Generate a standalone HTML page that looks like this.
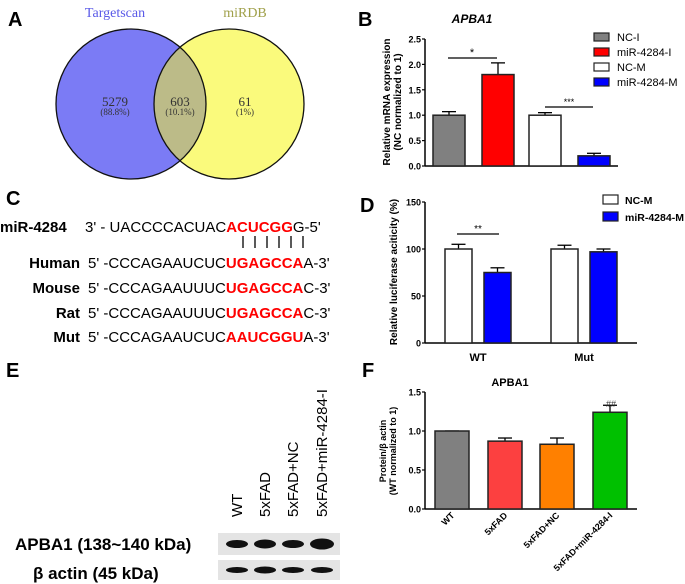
<!DOCTYPE html>
<html><head><meta charset="utf-8"><style>
html,body{margin:0;padding:0;background:#fff;}
svg{display:block;font-family:"Liberation Sans",Arial,sans-serif;}
</style></head><body>
<svg id="fig" width="685" height="584" viewBox="0 0 685 584" xmlns="http://www.w3.org/2000/svg">
<g font-weight="bold" font-size="20" fill="#000">
<text x="8" y="26">A</text>
<text x="358" y="26">B</text>
<text x="6" y="205">C</text>
<text x="360" y="212">D</text>
<text x="6" y="377">E</text>
<text x="362" y="377">F</text>
</g>
<g font-family="'Liberation Serif',serif">
<defs><clipPath id="cl"><circle cx="131" cy="104" r="75"/></clipPath></defs>
<circle cx="131" cy="104" r="75" fill="#7b7bf5"/>
<circle cx="229" cy="104" r="75" fill="#fafa7c"/>
<circle cx="229" cy="104" r="75" fill="#bcbb88" clip-path="url(#cl)"/>
<circle cx="131" cy="104" r="75" fill="none" stroke="#111" stroke-width="1.3"/>
<circle cx="229" cy="104" r="75" fill="none" stroke="#111" stroke-width="1.3"/>
<text x="115" y="17" font-size="14" fill="#5a5ae8" text-anchor="middle">Targetscan</text>
<text x="245" y="17" font-size="14" fill="#a0a04a" text-anchor="middle">miRDB</text>
<g fill="#333" text-anchor="middle">
<text x="115" y="106" font-size="13">5279</text><text x="115" y="115" font-size="9">(88.8%)</text>
<text x="180" y="106" font-size="13">603</text><text x="180" y="115" font-size="9">(10.1%)</text>
<text x="245" y="106" font-size="13">61</text><text x="245" y="115" font-size="9">(1%)</text>
</g>
</g>
<g font-size="15">
<text x="0" y="232" font-weight="bold">miR-4284</text>
<text x="85" y="232">3' - UACCCCACUAC<tspan fill="#f00" font-weight="bold">ACUCGG</tspan>G-5'</text>
<g stroke="#000" stroke-width="1.3">
<line x1="243" y1="236" x2="243" y2="248"/><line x1="255" y1="236" x2="255" y2="248"/><line x1="267" y1="236" x2="267" y2="248"/><line x1="279" y1="236" x2="279" y2="248"/><line x1="291" y1="236" x2="291" y2="248"/><line x1="303" y1="236" x2="303" y2="248"/>
</g>
<g font-weight="bold" text-anchor="end">
<text x="80" y="268">Human</text><text x="80" y="293">Mouse</text><text x="80" y="318">Rat</text><text x="80" y="342">Mut</text>
</g>
<text x="88" y="268">5' -CCCAGAAUCUC<tspan fill="#f00" font-weight="bold">UGAGCCA</tspan>A-3'</text>
<text x="88" y="293">5' -CCCAGAAUUUC<tspan fill="#f00" font-weight="bold">UGAGCCA</tspan>C-3'</text>
<text x="88" y="318">5' -CCCAGAAUUUC<tspan fill="#f00" font-weight="bold">UGAGCCA</tspan>C-3'</text>
<text x="88" y="342">5' -CCCAGAAUCUC<tspan fill="#f00" font-weight="bold">AAUCGGU</tspan>A-3'</text>
</g>
<g>
<g font-size="15" text-anchor="start">
<text transform="translate(242,517) rotate(-90)">WT</text>
<text transform="translate(270,517) rotate(-90)">5xFAD</text>
<text transform="translate(298,517) rotate(-90)">5xFAD+NC</text>
<text transform="translate(327,517) rotate(-90)">5xFAD+miR-4284-I</text>
</g>
<text x="15" y="550" font-size="17" font-weight="bold">APBA1 (138~140 kDa)</text>
<text x="33" y="579" font-size="17" font-weight="bold">β actin (45 kDa)</text>
<rect x="218" y="533" width="122" height="22" fill="#e4e4e4"/>
<rect x="218" y="560" width="122" height="20" fill="#e4e4e4"/>
<g fill="#111">
<ellipse cx="237" cy="544" rx="11" ry="4"/><ellipse cx="265" cy="544" rx="11" ry="4.5"/><ellipse cx="293" cy="544" rx="11" ry="4"/><ellipse cx="322" cy="544" rx="12" ry="5.5"/>
<ellipse cx="237" cy="570" rx="11" ry="3"/><ellipse cx="265" cy="570" rx="11" ry="3.5"/><ellipse cx="293" cy="570" rx="11" ry="3"/><ellipse cx="322" cy="570" rx="11" ry="3"/>
</g>
</g>
<g id="charts"></g>
</svg>
<script>
// Panel B data
const bCats = ["NC-I","miR-4284-I","NC-M","miR-4284-M"];
const bVals = [1.0, 1.8, 1.0, 0.2];
const bErr = [0.07, 0.23, 0.05, 0.05];
const bTicks = [0, 0.5, 1.0, 1.5, 2.0, 2.5];
// Panel D data
const dGroups = ["WT","Mut"];
const dSeries = ["NC-M","miR-4284-M"];
const dNC = [100, 100];
const dMir = [75, 97];
const dErrNC = [5, 4];
const dErrMir = [5, 3];
const dTicks = [0, 50, 100, 150];
// Panel F data
const fCats = ["WT","5xFAD","5xFAD+NC","5xFAD+miR-4284-I"];
const fVals = [1.0, 0.87, 0.83, 1.24];
const fErr = [0, 0.04, 0.08, 0.09];
const fTicks = [0, 0.5, 1.0, 1.5];

const NS="http://www.w3.org/2000/svg";
const root=document.getElementById('charts');
function mk(tag,attrs,parent){const e=document.createElementNS(NS,tag);for(const k in attrs)e.setAttribute(k,attrs[k]);(parent||root).appendChild(e);return e;}
function txt(s,attrs,parent){const e=mk('text',attrs,parent);e.textContent=s;return e;}
function axis(g,x0,x1,yScale,ticks,fmt){
  mk('line',{x1:x0,y1:yScale(ticks[0]),x2:x0,y2:yScale(ticks[ticks.length-1]),stroke:'#000','stroke-width':1.5},g);
  mk('line',{x1:x0,y1:yScale(0),x2:x1,y2:yScale(0),stroke:'#000','stroke-width':1.5},g);
  ticks.forEach(t=>{const y=yScale(t);
    mk('line',{x1:x0-3,y1:y,x2:x0,y2:y,stroke:'#000','stroke-width':1.2},g);
    const lab=txt(fmt(t),{x:x0-4,y:y+3.5,'font-size':9,'font-weight':'bold','text-anchor':'end'},g);
    
    
  });
}
function bar(g,x,w,y0,y1,fill,errTop,name){
  mk('line',{x1:x+w/2,y1:y1,x2:x+w/2,y2:errTop,stroke:'#000','stroke-width':1.3},g);
  mk('line',{x1:x+w/2-7,y1:errTop,x2:x+w/2+7,y2:errTop,stroke:'#000','stroke-width':1.3},g);
  const r=mk('rect',{x:x,y:y1,width:w,height:y0-y1,fill:fill,stroke:'#222','stroke-width':1.5},g);
  
  
}

(function(){
  const g=mk('g',{});
  
  
  const y=v=>166-v*(127/2.5);
  axis(g,425,618,y,bTicks,t=>t.toFixed(1));
  const cols=['#808080','#ff0000','#ffffff','#0000ff'];
  const xs=[433,482,529,578];
  bCats.forEach((c,i)=>bar(g,xs[i],32,y(0),y(bVals[i]),cols[i],y(bVals[i]+bErr[i]),'bar-b-'+c.toLowerCase()));
  txt('APBA1',{x:472,y:23,'font-size':12,'font-weight':'bold','font-style':'italic','text-anchor':'middle'},g);
  const yl=txt('',{transform:'translate(390,102) rotate(-90)','font-size':10,'font-weight':'bold','text-anchor':'middle'},g);
  
  
  yl.innerHTML='<tspan x="0" dy="0">Relative mRNA expression</tspan><tspan x="0" dy="11">(NC normalized to 1)</tspan>';
  mk('line',{x1:448,y1:58,x2:497,y2:58,stroke:'#000','stroke-width':1.2},g);
  txt('*',{x:472,y:56,'font-size':11,'text-anchor':'middle'},g);
  mk('line',{x1:545,y1:107,x2:593,y2:107,stroke:'#000','stroke-width':1.2},g);
  txt('***',{x:569,y:105,'font-size':9,'text-anchor':'middle'},g);
  bCats.forEach((c,i)=>{const ly=33+i*15;
    const lg=mk('g',{},g);
    
    
    mk('rect',{x:594,y:ly,width:15,height:8,fill:cols[i],stroke:'#222','stroke-width':1.2},lg);
    txt(c,{x:617,y:ly+8,'font-size':11},lg);
  });
})();

(function(){
  const g=mk('g',{});
  
  
  const y=v=>343-v*(141/150);
  axis(g,425,637,y,dTicks,t=>String(t));
  const gx=[445,551];
  dGroups.forEach((grp,i)=>{
    bar(g,gx[i],27,y(0),y(dNC[i]),'#ffffff',y(dNC[i]+dErrNC[i]),'bar-d-'+grp.toLowerCase()+'-nc-m');
    bar(g,gx[i]+39,27,y(0),y(dMir[i]),'#0000ff',y(dMir[i]+dErrMir[i]),'bar-d-'+grp.toLowerCase()+'-mir-4284-m');
    const l=txt(grp,{x:gx[i]+33,y:361,'font-size':11,'font-weight':'bold','text-anchor':'middle'},g);
    
    
  });
  const yl=txt('Relative luciferase aciticity (%)',{transform:'translate(397,272) rotate(-90)','font-size':10,'font-weight':'bold','text-anchor':'middle'},g);
  
  
  mk('line',{x1:457,y1:234,x2:499,y2:234,stroke:'#000','stroke-width':1.2},g);
  txt('**',{x:478,y:232,'font-size':10,'text-anchor':'middle'},g);
  const cols=['#ffffff','#0000ff'];
  dSeries.forEach((s,i)=>{const ly=195+i*17;
    const lg=mk('g',{},g);
    
    
    mk('rect',{x:603,y:ly,width:15,height:9,fill:cols[i],stroke:'#222','stroke-width':1.2},lg);
    txt(s,{x:625,y:ly+9,'font-size':10.5,'font-weight':'bold'},lg);
  });
})();

(function(){
  const g=mk('g',{});
  
  
  const y=v=>509-v*(117/1.5);
  axis(g,425,637,y,fTicks,t=>t.toFixed(1));
  const cols=['#808080','#fc4040','#ff8000','#00c000'];
  const xs=[435,488,540,593];
  fCats.forEach((c,i)=>{
    bar(g,xs[i],34,y(0),y(fVals[i]),cols[i],y(fVals[i]+fErr[i]),'bar-f-'+i);
    const cx=xs[i]+17;
    const l=txt(c,{transform:'translate('+(cx+3)+',516) rotate(-45)','font-size':9,'font-weight':'bold','text-anchor':'end'},g);
    
    
  });
  txt('##',{x:611,y:407,'font-size':9,'text-anchor':'middle',fill:'#333'},g);
  txt('APBA1',{x:510,y:386,'font-size':11,'font-weight':'bold','text-anchor':'middle'},g);
  const yl=txt('',{transform:'translate(386,451) rotate(-90)','font-size':9,'font-weight':'bold','text-anchor':'middle'},g);
  
  
  yl.innerHTML='<tspan x="0" dy="0">Protein/β actin</tspan><tspan x="0" dy="10">(WT normalized to 1)</tspan>';
})();
</script>
</body></html>
